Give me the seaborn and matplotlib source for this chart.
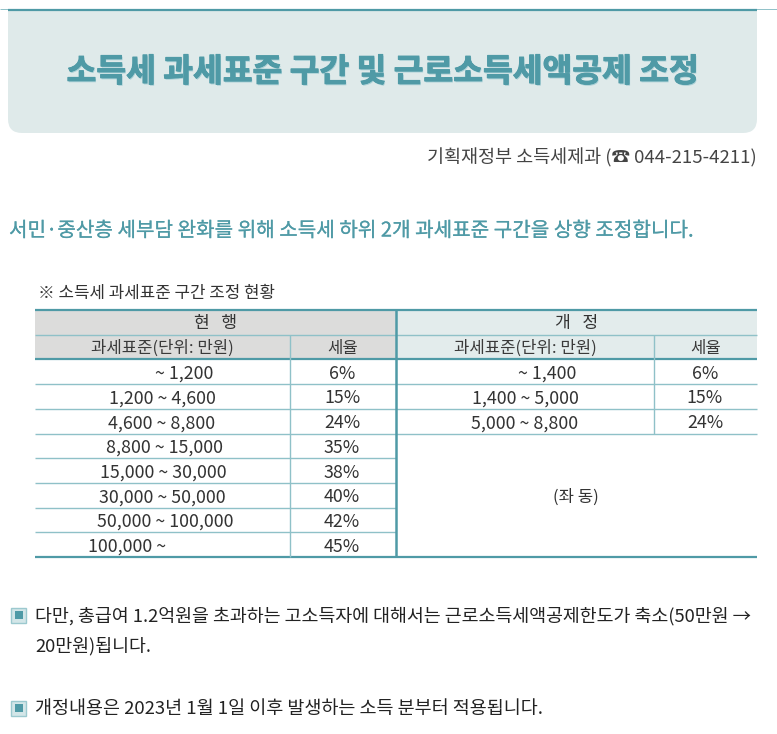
import matplotlib
matplotlib.use('Agg')
import matplotlib.pyplot as plt
import matplotlib.patheffects as pe
from matplotlib.colors import ListedColormap
from matplotlib.patches import FancyBboxPatch, Rectangle
import pandas as pd
import seaborn as sns

title = '소득세 과세표준 구간 및 근로소득세액공제 조정'
contact = '기획재정부 소득세제과 (☎ 044-215-4211)'
headline = '서민·중산층 세부담 완화를 위해 소득세 하위 2개 과세표준 구간을 상향 조정합니다.'
table_note = '※ 소득세 과세표준 구간 조정 현황'

group_labels = ['현   행', '개   정']
column_labels = ['과세표준(단위: 만원)', '세율']
current_brackets = ['~ 1,200', '1,200 ~ 4,600', '4,600 ~ 8,800', '8,800 ~ 15,000',
                    '15,000 ~ 30,000', '30,000 ~ 50,000', '50,000 ~ 100,000', '100,000 ~']
current_rates = ['6%', '15%', '24%', '35%', '38%', '40%', '42%', '45%']
revised_brackets = ['~ 1,400', '1,400 ~ 5,000', '5,000 ~ 8,800']
revised_rates = ['6%', '15%', '24%']
same_label = '(좌 동)'
notes = ['다만, 총급여 1.2억원을 초과하는 고소득자에 대해서는 근로소득세액공제한도가 축소(50만원 →',
         '20만원)됩니다.',
         '개정내용은 2023년 1월 1일 이후 발생하는 소득 분부터 적용됩니다.']

# table background, one value per row/side: 0 gray, 1 pale teal, 2 white
cell_fill = pd.DataFrame({'current': [0, 0] + [2] * 8, 'revised': [1, 1] + [2] * 8})

TEAL = '#4f9aa6'
LINE = '#8fc1c8'
TEXT = '#333333'
FONT = ['Noto Sans CJK KR', 'DejaVu Sans']

W, H = 777, 734
sns.set_theme(style='white')
plt.rcParams['font.family'] = FONT

fig = plt.figure(figsize=(W / 100, H / 100), dpi=100)

# heatmap is only the table shading, everything else goes on the pixel overlay
T_LEFT, T_RIGHT, T_TOP, T_BOTTOM = 35, 757, 310, 557
hm_ax = fig.add_axes([T_LEFT / W, 1 - T_BOTTOM / H, (T_RIGHT - T_LEFT) / W, (T_BOTTOM - T_TOP) / H])
sns.heatmap(cell_fill, ax=hm_ax, cbar=False, xticklabels=False, yticklabels=False, vmin=0, vmax=2,
            cmap=ListedColormap(['#dcdcdb', '#e3ecec', '#ffffff']))

ax = fig.add_axes([0, 0, 1, 1], zorder=5)
ax.set_xlim(0, W)
ax.set_ylim(H, 0)
ax.axis('off')


def put(x, y, s, size, color=TEXT, ha='center', **kw):
    return ax.text(x, y, s, fontsize=size, color=color, ha=ha, va='center', **kw)


def hline(y, x0, x1, lw=1.0, color=LINE):
    ax.plot([x0, x1], [y, y], color=color, lw=lw, solid_capstyle='butt')


def vline(x, y0, y1, lw=1.0, color=LINE):
    ax.plot([x, x], [y0, y1], color=color, lw=lw, solid_capstyle='butt')


# title panel
ax.add_patch(FancyBboxPatch((8, 10), 749, 123, boxstyle='round,pad=0,rounding_size=14',
                            fc='#dfeaea', ec='none'))
ax.add_patch(Rectangle((8, 10), 749, 30, fc='#dfeaea', ec='none'))
hline(8.5, 0, W, lw=0.7, color='#8fc1c8')
hline(9.5, 8, 757, lw=1.6, color=TEAL)

put(382.5, 72, title, 23.3, color=TEAL, fontweight='heavy',
    path_effects=[pe.withSimplePatchShadow(offset=(0.7, -1.0), shadow_rgbFace='#a9d0d6', alpha=1),
                  pe.withStroke(linewidth=0.7, foreground=TEAL)])
put(757, 158, contact, 13.35, ha='right', color='#444444')
put(9, 231, headline, 14.5, color=TEAL, ha='left', fontweight='medium',
    path_effects=[pe.withStroke(linewidth=0.12, foreground=TEAL)])
put(38, 293, table_note, 12.1, ha='left')

# table rules
row_h = (T_BOTTOM - T_TOP) / 10
rows_y = [T_TOP + row_h * i for i in range(11)]
MID, COL_L, COL_R = 396, 290, 654
hline(T_TOP, T_LEFT, T_RIGHT, lw=1.6, color=TEAL)
hline(rows_y[1], T_LEFT, T_RIGHT)
hline(rows_y[2], T_LEFT, T_RIGHT, lw=1.6, color=TEAL)
for y in rows_y[3:10]:
    hline(y, T_LEFT, MID)
for y in rows_y[3:6]:
    hline(y, MID, T_RIGHT)
hline(T_BOTTOM, T_LEFT, T_RIGHT, lw=1.6, color=TEAL)
vline(COL_L, rows_y[1], T_BOTTOM)
vline(COL_R, rows_y[1], rows_y[5])
vline(MID, T_TOP, T_BOTTOM, lw=1.8, color=TEAL)

# table text
put((T_LEFT + MID) / 2, rows_y[0] + row_h / 2 + 1, group_labels[0], 12.3)
put((MID + T_RIGHT) / 2, rows_y[0] + row_h / 2 + 1, group_labels[1], 12.3)
for cx, label in zip([162, 343, 525, 706], column_labels * 2):
    put(cx, rows_y[1] + row_h / 2 + 1, label, 12, color='#3a3a3a')

current_x = [184, 162, 162, 165, 163, 162, 165, 127]
for y, s, cx, r in zip(rows_y[2:], current_brackets, current_x, current_rates):
    put(cx, y + row_h / 2 + 2, s, 12.8)
    put(342, y + row_h / 2 + 2, r, 12.8)
revised_x = [547, 525, 525]
for y, s, cx, r in zip(rows_y[2:], revised_brackets, revised_x, revised_rates):
    put(cx, y + row_h / 2 + 2, s, 12.8)
    put(705, y + row_h / 2 + 2, r, 12.8)
put(576, 497, same_label, 12)

# notes with square bullets
for y in [615, 708]:
    ax.add_patch(Rectangle((11, y - 7.5), 15, 15, fc='#d3e6e8', ec='#9cc9cf', lw=1))
    ax.add_patch(Rectangle((15, y - 4), 7.5, 8, fc=TEAL, ec='none'))
put(35, 616, notes[0], 13.25, ha='left', color='#222222')
put(35, 646, notes[1], 13.25, ha='left', color='#222222')
put(35, 709, notes[2], 13.33, ha='left', color='#222222')

fig.savefig('out.png', dpi=100)
